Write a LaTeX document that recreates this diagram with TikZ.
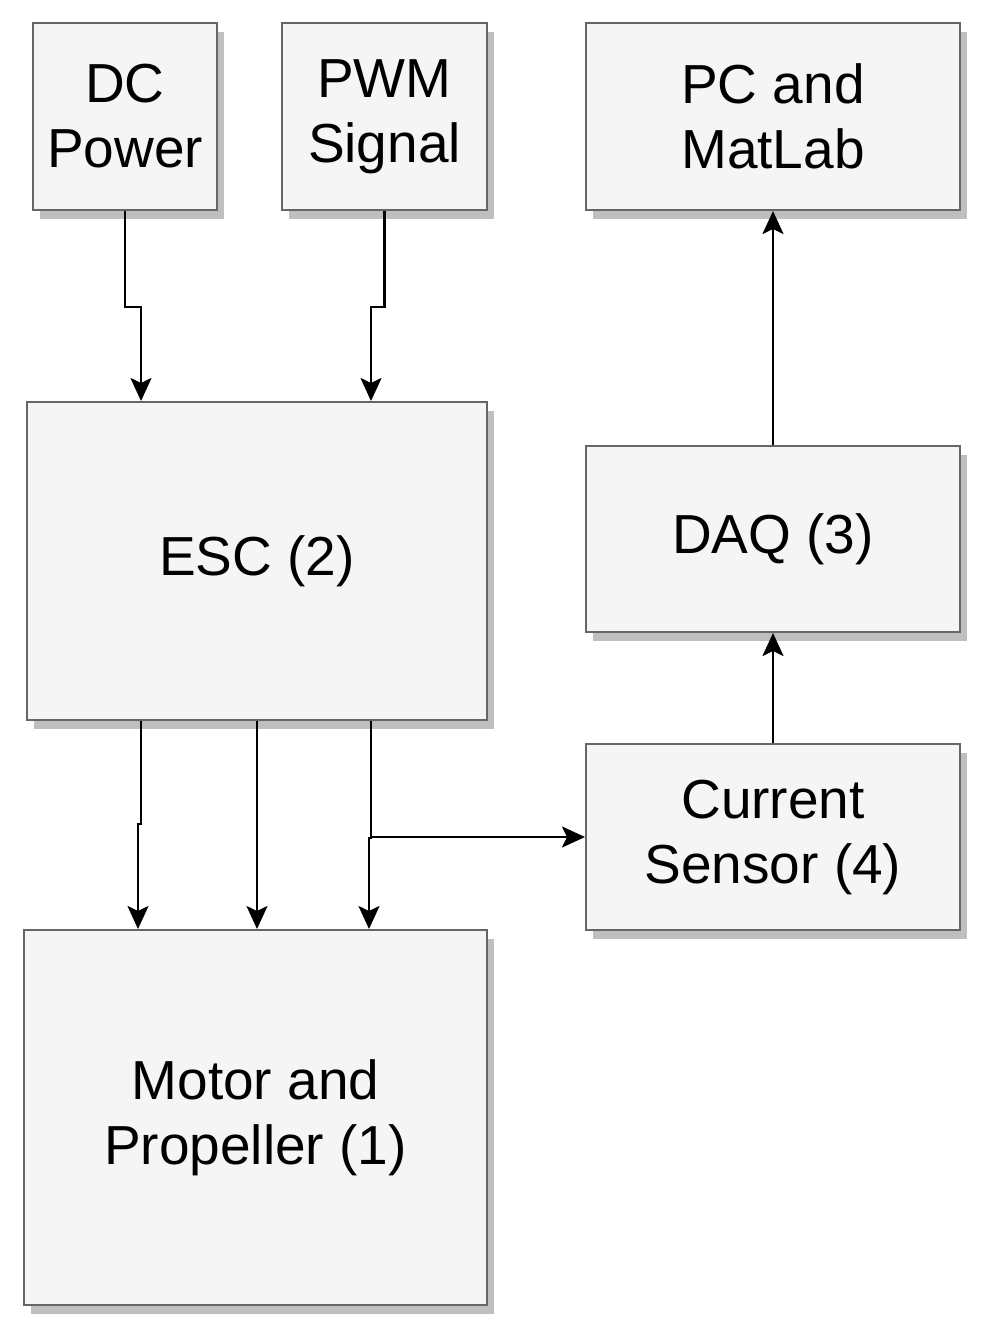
\documentclass[tikz,border=0pt]{standalone}
\usepackage{fontspec}
\setmainfont{Liberation Sans}
\usetikzlibrary{arrows.meta, positioning, shadows}

\begin{document}
\begin{tikzpicture}[x=1pt, y=-1pt, on grid,
        blk/.style={rectangle, draw=black!60, line width=2pt, fill=black!4, inner sep=0pt, align=center,
            font=\fontsize{55}{65}\selectfont,
            drop shadow={shadow xshift=7pt, shadow yshift=-9pt, fill=black!25, opacity=1}},
        arr/.style={-{Stealth[length=23pt, width=21pt, inset=5pt]}, line width=2.4pt}]
                \useasboundingbox (0,0) rectangle (990,1335);
                \node[blk, minimum width=184pt, minimum height=187pt] (dc) at (125,116.5) {DC\\Power};
                \node[blk, minimum width=205pt, minimum height=187pt] (pwm) [right=259.5pt of dc] {PWM\\Signal};
                \node[blk, minimum width=374pt, minimum height=187pt] (pc) [right=388.5pt of pwm] {PC and\\MatLab};
                \node[blk, minimum width=460pt, minimum height=318pt] (esc) at (257,561) {ESC (2)};
                \node[blk, minimum width=463pt, minimum height=375pt] (motor) [below=556.5pt of esc, xshift=-1.5pt] {Motor and\\Propeller (1)};
                \node[blk, minimum width=374pt, minimum height=186pt] (daq) [below=422.5pt of pc] {DAQ (3)};
                \node[blk, minimum width=374pt, minimum height=186pt] (cs) [below=298pt of daq] {Current\\Sensor (4)};
                \coordinate (tap) at ([xshift=345pt]esc.south west);
                \draw[arr] (dc.south) -- ++(0,96) -| ([xshift=115pt]esc.north west);
                \draw[arr] (pwm.south) -- ++(0,96) -| ([xshift=345pt]esc.north west);
                \draw[arr] ([xshift=115pt]esc.south west) -- ++(0,103) -| ([xshift=115pt]motor.north west);
                \draw[arr] (esc.south) -- (esc.south |- motor.north);
                \draw[arr] (tap) -- ++(0,117) -| ([xshift=346pt]motor.north west);
                \draw[arr] (tap |- cs.west) -- (cs.west);
                \draw[arr] (cs.north) -- (daq.south);
                \draw[arr] (daq.north) -- (pc.south);
        \end{tikzpicture}
\end{document}
